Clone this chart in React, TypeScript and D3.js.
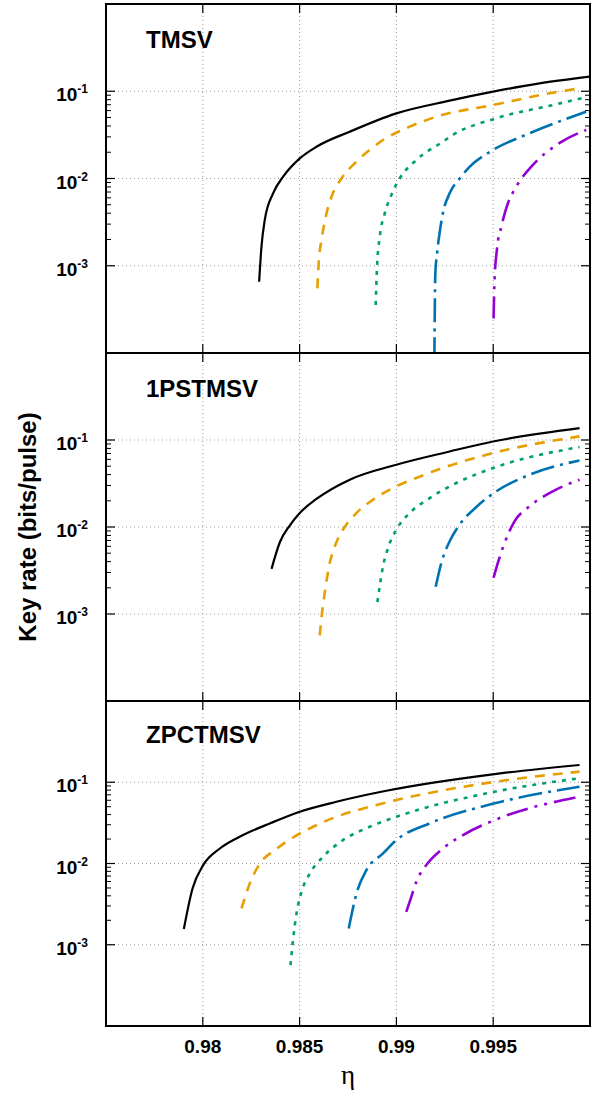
import React from 'react';
import * as d3 from 'd3';

// ---- data ----
const etaTicks = [0.98, 0.985, 0.99, 0.995];
const etaTickLabels = ['0.98', '0.985', '0.99', '0.995'];
const rateTicks = [1e-3, 1e-2, 1e-1];
const rateTickExponents = ['-3', '-2', '-1'];
const panelTitles = ['TMSV', '1PSTMSV', 'ZPCTMSV'];

// series order: black, orange, green, blue, purple
const tmsvEta = [
  [0.98291, 0.98303, 0.9832, 0.98363, 0.98415, 0.98501, 0.98587, 0.98759, 0.99, 0.99275, 0.99499, 0.99739, 0.99997],
  [0.98592, 0.98599, 0.98613, 0.98635, 0.98665, 0.98716, 0.98794, 0.98931, 0.99069, 0.99206, 0.99499, 0.99808, 0.99946],
  [0.98893, 0.989, 0.98914, 0.9894, 0.98974, 0.99017, 0.99103, 0.9924, 0.99292, 0.99516, 0.99808, 0.9998],
  [0.99196, 0.99201, 0.9921, 0.99223, 0.9924, 0.99275, 0.99327, 0.99378, 0.99499, 0.99688, 0.9998],
  [0.99502, 0.99507, 0.99519, 0.99542, 0.99576, 0.99619, 0.99705, 0.99826, 0.9998],
];
const tmsvRate = [
  [6.56e-4, 1.65e-3, 3.34e-3, 6.76e-3, 1.05e-2, 1.7e-2, 2.31e-2, 3.44e-2, 5.58e-2, 7.8e-2, 9.89e-2, 0.123, 0.147],
  [5.51e-4, 1.11e-3, 1.97e-3, 3.65e-3, 6.19e-3, 1.0e-2, 1.56e-2, 2.76e-2, 3.93e-2, 5.11e-2, 6.95e-2, 9.62e-2, 0.108],
  [3.55e-4, 9.75e-4, 2.15e-3, 3.99e-3, 6.47e-3, 1.0e-2, 1.63e-2, 2.64e-2, 3.16e-2, 4.9e-2, 6.95e-2, 8.53e-2],
  [8e-5, 8.0e-4, 1.39e-3, 2.36e-3, 3.99e-3, 6.76e-3, 1.0e-2, 1.36e-2, 2.12e-2, 3.3e-2, 5.83e-2],
  [2.49e-4, 6.87e-4, 1.52e-3, 2.8e-3, 5.2e-3, 8.05e-3, 1.43e-2, 2.42e-2, 3.6e-2],
];

const pstEta = [
  [0.98355, 0.98398, 0.98449, 0.98501, 0.98587, 0.98759, 0.99, 0.99275, 0.99499, 0.99946],
  [0.98604, 0.98618, 0.98635, 0.98652, 0.98682, 0.98724, 0.98794, 0.98879, 0.98982, 0.99103, 0.99223, 0.99499, 0.99946],
  [0.98902, 0.98914, 0.98931, 0.98957, 0.99, 0.99069, 0.99172, 0.99275, 0.99499, 0.99946],
  [0.99203, 0.99232, 0.99275, 0.99327, 0.99413, 0.99516, 0.99688, 0.99946],
  [0.99502, 0.99524, 0.99559, 0.9961, 0.99688, 0.99808, 0.99946],
];
const pstRate = [
  [3.3e-3, 6.68e-3, 1.04e-2, 1.45e-2, 2.1e-2, 3.5e-2, 5.2e-2, 7.38e-2, 9.62e-2, 0.137],
  [5.69e-4, 1.13e-3, 2.09e-3, 3.54e-3, 6.01e-3, 9.33e-3, 1.45e-2, 2.06e-2, 2.81e-2, 3.66e-2, 4.63e-2, 7.08e-2, 0.11],
  [1.37e-3, 2.09e-3, 3.54e-3, 5.75e-3, 9.33e-3, 1.45e-2, 2.15e-2, 2.93e-2, 4.76e-2, 8.3e-2],
  [2.06e-3, 3.87e-3, 6.86e-3, 1.07e-2, 1.7e-2, 2.57e-2, 3.99e-2, 5.82e-2],
  [2.61e-3, 3.87e-3, 6.58e-3, 1.16e-2, 1.73e-2, 2.57e-2, 3.5e-2],
];

const zpcEta = [
  [0.97902, 0.97947, 0.98002, 0.98088, 0.98208, 0.98346, 0.98501, 0.9869, 0.98948, 0.99507, 0.99946],
  [0.982, 0.98243, 0.98295, 0.98372, 0.98466, 0.9857, 0.9869, 0.98862, 0.99, 0.99507, 0.99946],
  [0.98453, 0.98466, 0.98484, 0.9851, 0.98553, 0.98621, 0.98724, 0.98862, 0.99, 0.99507, 0.99946],
  [0.98754, 0.98794, 0.98845, 0.98931, 0.99, 0.99172, 0.99507, 0.99946],
  [0.99051, 0.99077, 0.99103, 0.99154, 0.9924, 0.99344, 0.99507, 0.99929],
];
const zpcRate = [
  [1.56e-3, 4.93e-3, 9.55e-3, 1.53e-2, 2.24e-2, 3.11e-2, 4.34e-2, 5.75e-2, 7.85e-2, 0.126, 0.163],
  [2.8e-3, 5.69e-3, 1.0e-2, 1.46e-2, 2.09e-2, 2.83e-2, 3.76e-2, 4.99e-2, 6.04e-2, 0.101, 0.135],
  [5.61e-4, 1.14e-3, 2.43e-3, 4.48e-3, 7.55e-3, 1.21e-2, 1.94e-2, 2.83e-2, 3.76e-2, 7.64e-2, 0.112],
  [1.59e-3, 4.29e-3, 8.3e-3, 1.33e-2, 1.94e-2, 3.12e-2, 5.5e-2, 8.81e-2],
  [2.54e-3, 3.89e-3, 5.96e-3, 9.55e-3, 1.53e-2, 2.24e-2, 3.42e-2, 6.52e-2],
];

// ---- styles ----
const seriesColors = ['#000000', '#E69F00', '#009E73', '#0072B2', '#9400D3'];
const seriesDash = ['none', '10,8', '4,6', '24,6,3,6', '22,7,3,7,3,7'];
const seriesWidth = [2.2, 2.6, 2.6, 2.6, 2.6];

const W = 596;
const H = 1096;
const left = 106;
const right = 590;
const panels = [
  { top: 4, bottom: 353 },
  { top: 353, bottom: 701 },
  { top: 701, bottom: 1026 },
];
const panelEta = [tmsvEta, pstEta, zpcEta];
const panelRate = [tmsvRate, pstRate, zpcRate];

const FONT = '"Liberation Sans", Arial, Helvetica, sans-serif';

export default function App() {
  const x = d3.scaleLinear().domain([0.975, 1.0]).range([left, right]);
  const minor: number[] = [];
  [-3, -2].forEach((d) => {
    for (let k = 2; k <= 9; k++) minor.push(k * Math.pow(10, d));
  });

  return (
    <svg
      width={W}
      height={H}
      style={{ position: 'absolute', left: 0, top: 0, background: '#fff' }}
      xmlns="http://www.w3.org/2000/svg"
    >
      <rect x={0} y={0} width={W} height={H} fill="#fff" />
      <defs>
        {panels.map((p, i) => (
          <clipPath id={`clip${i}`} key={i}>
            <rect x={left} y={p.top} width={right - left} height={p.bottom - p.top} />
          </clipPath>
        ))}
      </defs>
      {panels.map((p, pi) => {
        const y = d3.scaleLog().domain([1e-4, 1]).range([p.bottom, p.top]);
        const line = d3
          .line<[number, number]>()
          .x((d) => x(d[0]))
          .y((d) => y(d[1]))
          .curve(d3.curveMonotoneX);
        return (
          <g key={pi}>
            {/* grid */}
            {etaTicks.map((t, i) => (
              <line
                key={'gx' + i}
                x1={x(t)}
                x2={x(t)}
                y1={p.top}
                y2={p.bottom}
                stroke="#9a9a9a"
                strokeWidth={1}
                strokeDasharray="1,3"
              />
            ))}
            {rateTicks.map((t, i) => (
              <line
                key={'gy' + i}
                x1={left}
                x2={right}
                y1={y(t)}
                y2={y(t)}
                stroke="#9a9a9a"
                strokeWidth={1}
                strokeDasharray="1,3"
              />
            ))}
            {/* curves */}
            <g clipPath={`url(#clip${pi})`}>
              {panelEta[pi].map((etas, si) => {
                const pts: [number, number][] = etas.map((e, k) => [e, panelRate[pi][si][k]]);
                return (
                  <path
                    key={si}
                    d={line(pts) || ''}
                    fill="none"
                    stroke={seriesColors[si]}
                    strokeWidth={seriesWidth[si]}
                    strokeDasharray={seriesDash[si]}
                    strokeLinejoin="round"
                  />
                );
              })}
            </g>
            {/* ticks */}
            {rateTicks.map((t, i) => (
              <g key={'ty' + i}>
                <line x1={left} x2={left + 9} y1={y(t)} y2={y(t)} stroke="#000" strokeWidth={1.2} />
                <line x1={right - 9} x2={right} y1={y(t)} y2={y(t)} stroke="#000" strokeWidth={1.2} />
                <text
                  x={88}
                  y={y(t) + 10}
                  textAnchor="end"
                  fontFamily={FONT}
                  fontWeight="bold"
                  fontSize={19}
                >
                  10
                  <tspan dy={-8} fontSize={12}>
                    {rateTickExponents[i]}
                  </tspan>
                </text>
              </g>
            ))}
            {minor.map((t, i) => (
              <g key={'my' + i}>
                <line x1={left} x2={left + 5} y1={y(t)} y2={y(t)} stroke="#000" strokeWidth={1} />
                <line x1={right - 5} x2={right} y1={y(t)} y2={y(t)} stroke="#000" strokeWidth={1} />
              </g>
            ))}
            {etaTicks.map((t, i) => (
              <g key={'tx' + i}>
                <line x1={x(t)} x2={x(t)} y1={p.bottom} y2={p.bottom - 9} stroke="#000" strokeWidth={1.2} />
                <line x1={x(t)} x2={x(t)} y1={p.top} y2={p.top + 9} stroke="#000" strokeWidth={1.2} />
              </g>
            ))}
            {/* frame */}
            <rect
              x={left}
              y={p.top}
              width={right - left}
              height={p.bottom - p.top}
              fill="none"
              stroke="#000"
              strokeWidth={2}
            />
            <text
              x={146}
              y={p.top + (pi === 2 ? 42 : 44)}
              fontFamily={FONT}
              fontWeight="bold"
              fontSize={24}
            >
              {panelTitles[pi]}
            </text>
          </g>
        );
      })}
      {/* x tick labels */}
      {etaTicks.map((t, i) => (
        <text
          key={'xl' + i}
          x={x(t)}
          y={1053}
          textAnchor="middle"
          fontFamily={FONT}
          fontWeight="bold"
          fontSize={19}
        >
          {etaTickLabels[i]}
        </text>
      ))}
      <text
        x={348}
        y={1084}
        textAnchor="middle"
        fontFamily='"Liberation Serif", "Times New Roman", serif'
        fontSize={27}
      >
        η
      </text>
      <text
        transform="translate(36,527) rotate(-90)"
        textAnchor="middle"
        fontFamily={FONT}
        fontWeight="bold"
        fontSize={24}
      >
        Key rate (bits/pulse)
      </text>
    </svg>
  );
}
